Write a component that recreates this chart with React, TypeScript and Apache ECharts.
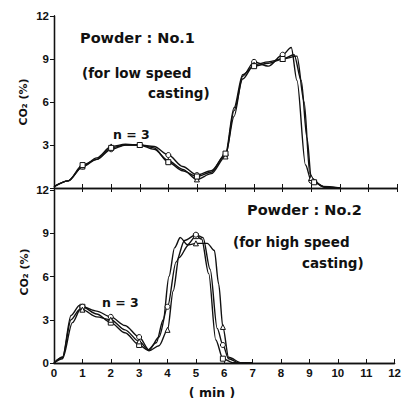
import React, { useEffect, useRef } from "react";
import * as echarts from "echarts";

// [time (min), CO2 (%), marker flag]
const topCircle: number[][] = [
  [0, 0.1, 0], [0.5, 0.5, 0], [1, 1.5, 1], [1.5, 2.0, 0], [2, 2.7, 1], [2.5, 3.0, 0], [3, 3.0, 1],
  [3.5, 2.9, 0], [4, 2.3, 1], [4.5, 1.5, 0], [5, 0.9, 1], [5.5, 1.2, 0], [6, 2.3, 1], [6.3, 5.0, 0],
  [6.6, 7.8, 0], [7, 8.8, 1], [7.5, 8.5, 0], [8, 9.3, 1], [8.3, 9.8, 0], [8.5, 7.5, 0], [8.8, 1.6, 0],
  [9, 0.5, 1], [9.5, 0.05, 0], [10, 0, 0],
];
const topTriangle: number[][] = [
  [0, 0.1, 0], [0.5, 0.5, 0], [1, 1.5, 1], [1.5, 2.1, 0], [2, 2.9, 1], [2.5, 3.05, 0], [3, 3.0, 1],
  [3.5, 2.7, 0], [4, 1.9, 1], [4.5, 1.3, 0], [5, 0.6, 1], [5.5, 1.0, 0], [6, 2.2, 1], [6.3, 5.4, 0],
  [6.6, 7.6, 0], [7, 8.6, 1], [7.5, 8.8, 0], [8, 9.0, 1], [8.4, 9.3, 0], [8.65, 7.5, 0], [8.85, 3.5, 0],
  [9, 0.7, 1], [9.4, 0.1, 0], [10, 0, 0],
];
const topSquare: number[][] = [
  [0, 0.1, 0], [0.5, 0.5, 0], [1, 1.6, 1], [1.5, 2.0, 0], [2, 2.8, 1], [2.5, 3.0, 0], [3, 3.0, 1],
  [3.5, 2.8, 0], [4, 1.8, 1], [4.5, 1.2, 0], [5, 0.8, 1], [5.5, 1.1, 0], [6, 2.4, 1], [6.3, 5.6, 0],
  [6.6, 7.9, 0], [7, 8.5, 1], [7.5, 8.7, 0], [8, 9.0, 1], [8.5, 9.2, 0], [8.75, 6.0, 0], [8.95, 1.0, 0],
  [9.1, 0.4, 1], [9.5, 0.05, 0], [10, 0, 0],
];

const botSquare: number[][] = [
  [0, 0, 0], [0.3, 0.4, 0], [0.6, 3.3, 0], [0.9, 4.0, 0], [1, 3.9, 1], [1.5, 3.4, 0], [2, 2.8, 1],
  [2.5, 2.1, 0], [3, 1.25, 1], [3.3, 0.9, 0], [3.6, 1.4, 0], [3.85, 3.0, 0], [4.05, 6.0, 0],
  [4.25, 8.0, 0], [4.45, 8.7, 0], [4.7, 8.2, 0], [5, 8.8, 1], [5.2, 8.6, 0], [5.45, 6.2, 0],
  [5.7, 1.6, 0], [5.95, 0.3, 1], [6.3, 0.02, 0], [7, 0, 0],
];
const botCircle: number[][] = [
  [0, 0, 0], [0.3, 0.3, 0], [0.65, 2.8, 0], [0.95, 3.8, 0], [1, 3.9, 1], [1.5, 3.6, 0], [2, 3.2, 1],
  [2.5, 2.6, 0], [3, 1.8, 1], [3.35, 0.9, 0], [3.7, 1.8, 0], [4, 3.9, 1], [4.3, 7.0, 0], [4.6, 8.5, 0],
  [5, 8.9, 1], [5.25, 8.7, 0], [5.5, 6.5, 0], [5.75, 2.4, 0], [5.95, 1.25, 1], [6.15, 0.3, 0],
  [6.5, 0.02, 0], [7, 0, 0],
];
const botTriangle: number[][] = [
  [0, 0, 0], [0.3, 0.4, 0], [0.6, 3.0, 0], [0.9, 3.7, 0], [1, 3.7, 1], [1.5, 3.2, 0], [2, 3.0, 1],
  [2.5, 2.3, 0], [3, 1.5, 1], [3.35, 0.85, 0], [3.7, 1.2, 0], [4, 2.3, 1], [4.2, 5.0, 0], [4.4, 7.3, 0],
  [4.75, 8.2, 0], [5, 8.3, 1], [5.4, 8.3, 0], [5.65, 7.8, 0], [5.8, 5.5, 0], [5.95, 2.5, 1],
  [6.15, 0.4, 0], [6.6, 0.02, 0], [7, 0, 0],
];

const xTickLabels = ["0", "1", "2", "3", "4", "5", "6", "7", "8", "9", "10", "11", "12"];
const topYTickLabels = ["", "3", "6", "9", "12"];
const botYTickLabels = ["0", "3", "6", "9", "12"];

const FONT = "'DejaVu Sans', sans-serif";
const TICKFONT = "'Liberation Sans', Arial, sans-serif";

function mkSeries(data: number[][], symbol: string, gi: number, fill: string) {
  return {
    type: "line",
    xAxisIndex: gi * 2,
    yAxisIndex: gi * 2,
    smooth: 0.3,
    smoothMonotone: "x",
    showAllSymbol: true,
    symbolSize: 5,
    lineStyle: { color: "#111", width: 1.4 },
    itemStyle: { color: fill, borderColor: "#111", borderWidth: 1 },
    data: data.map((d) => ({ value: [d[0], d[1]], symbol: d[2] ? symbol : "none" })),
  };
}

export default function App() {
  const ref = useRef<HTMLDivElement>(null);
  useEffect(() => {
    if (!ref.current) return;
    const chart = echarts.init(ref.current, null, { renderer: "svg" });
    const axisLine = { show: true, lineStyle: { color: "#111", width: 1.3 } };
    const xBase = {
      type: "value", min: 0, max: 12, interval: 1,
      axisLine, splitLine: { show: false },
    };
    const yBase = {
      type: "value", min: 0, max: 12, interval: 3,
      axisLine, splitLine: { show: false },
    };
    const tickIn = { show: true, inside: true, length: 4, lineStyle: { color: "#111", width: 1 } };
    const tickOut = { show: true, inside: false, length: 3, lineStyle: { color: "#111", width: 1 } };
    const yLabel = (labels: string[]) => ({
      show: true, color: "#111", fontFamily: TICKFONT, fontWeight: "bold", fontSize: 11.5, margin: 5,
      formatter: (v: number) => labels[Math.round(v / 3)] ?? "",
    });
    const textStyle = (t: string, x: number, y: number, size = 13.5, rot = 0) => ({
      type: "text", x, y, rotation: rot,
      style: { text: t, fill: "#111", font: `bold ${size}px ${FONT}`, align: "left", verticalAlign: "middle" },
    });
    chart.setOption({
      animation: false,
      backgroundColor: "#fff",
      grid: [
        { left: 54, top: 16, width: 343, height: 172 },
        { left: 54, top: 190, width: 343, height: 173 },
      ],
      xAxis: [
        { ...xBase, gridIndex: 0, position: "bottom", axisTick: tickIn, axisLabel: { show: false } },
        { ...xBase, gridIndex: 0, position: "top", axisTick: tickIn, axisLabel: { show: false } },
        {
          ...xBase, gridIndex: 1, position: "bottom", axisTick: tickIn,
          axisLabel: {
            show: true, color: "#111", fontFamily: TICKFONT, fontWeight: "bold", fontSize: 11.5, margin: 4,
            formatter: (v: number) => xTickLabels[Math.round(v)] ?? "",
          },
        },
        { ...xBase, gridIndex: 1, position: "top", axisTick: { show: false }, axisLabel: { show: false } },
      ],
      yAxis: [
        { ...yBase, gridIndex: 0, position: "left", axisTick: tickOut, axisLabel: yLabel(topYTickLabels) },
        { ...yBase, gridIndex: 0, position: "right", axisTick: tickIn, axisLabel: { show: false } },
        { ...yBase, gridIndex: 1, position: "left", axisTick: tickOut, axisLabel: yLabel(botYTickLabels) },
        { ...yBase, gridIndex: 1, position: "right", axisTick: tickIn, axisLabel: { show: false } },
      ],
      series: [
        mkSeries(topCircle, "circle", 0, "#fff"),
        mkSeries(topTriangle, "triangle", 0, "#fff"),
        mkSeries(topSquare, "rect", 0, "#fff"),
        mkSeries(botSquare, "rect", 1, "#fff"),
        mkSeries(botCircle, "circle", 1, "#fff"),
        mkSeries(botTriangle, "triangle", 1, "#fff"),
      ],
      graphic: [
        textStyle("Powder : No.1", 80, 38, 14.5),
        textStyle("(for low speed", 82, 73),
        textStyle("casting)", 148, 93),
        textStyle("n = 3", 113, 134, 12.5),
        textStyle("Powder : No.2", 247, 210, 14.5),
        textStyle("(for high speed", 233, 242),
        textStyle("casting)", 302, 263),
        textStyle("n = 3", 102, 302, 12.5),
        {
          type: "text", x: 23, y: 102, rotation: Math.PI / 2,
          style: { text: "CO₂ (%)", fill: "#111", font: `bold 11px ${FONT}`, align: "center", verticalAlign: "middle" },
        },
        {
          type: "text", x: 24, y: 272, rotation: Math.PI / 2,
          style: { text: "CO₂ (%)", fill: "#111", font: `bold 11px ${FONT}`, align: "center", verticalAlign: "middle" },
        },
        {
          type: "text", x: 212, y: 392,
          style: { text: "( min )", fill: "#111", font: `bold 12.5px ${FONT}`, align: "center", verticalAlign: "middle" },
        },
      ],
    });
    return () => chart.dispose();
  }, []);
  return <div ref={ref} style={{ position: "fixed", left: 0, top: 0, width: 404, height: 398 }} />;
}
